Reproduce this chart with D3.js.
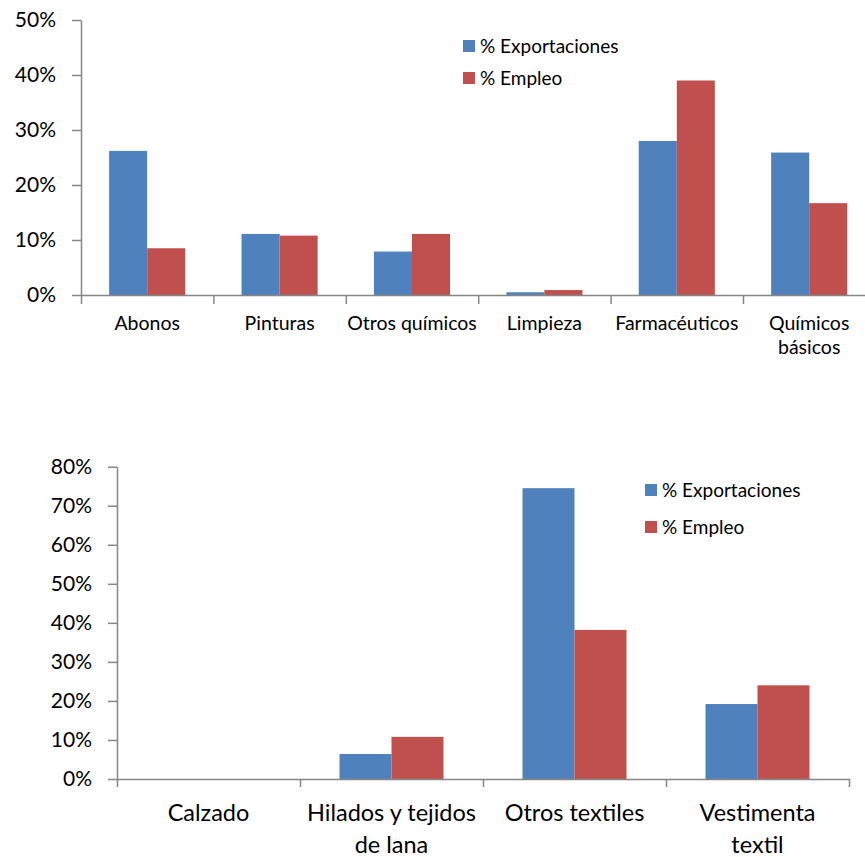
<!DOCTYPE html>
<html>
<head>
<meta charset="utf-8">
<script src="https://cdn.jsdelivr.net/npm/d3@7"></script>
<style>
  html, body { margin: 0; padding: 0; background: #fff; }
  svg { display: block; font-family: Lato, "Open Sans", sans-serif; }
</style>
</head>
<body>
<svg id="chart" width="865" height="857"></svg>
<script>
// ---------- DATA ----------
const seriesNames = ["% Exportaciones", "% Empleo"];
const seriesColors = ["#4F81BD", "#C0504D"];

// Top chart (químicos)
const topCategories = ["Abonos", "Pinturas", "Otros químicos", "Limpieza", "Farmacéuticos", "Químicos básicos"];
const topLabels = ["Abonos", "Pinturas", "Otros químicos", "Limpieza", "Farmacéuticos", "Químicos\nbásicos"];
const topExport = [0.262, 0.111, 0.079, 0.005, 0.280, 0.259];
const topEmpleo = [0.085, 0.108, 0.111, 0.009, 0.390, 0.167];
const topTicks = [0, 0.1, 0.2, 0.3, 0.4, 0.5];

// Bottom chart (textiles)
const botCategories = ["Calzado", "Hilados y tejidos de lana", "Otros textiles", "Vestimenta textil"];
const botLabels = ["Calzado", "Hilados y tejidos\nde lana", "Otros textiles", "Vestimenta\ntextil"];
const botExport = [0.0, 0.064, 0.745, 0.192];
const botEmpleo = [0.0, 0.108, 0.382, 0.240];
const botTicks = [0, 0.1, 0.2, 0.3, 0.4, 0.5, 0.6, 0.7, 0.8];

// ---------- DRAW ----------
const svg = d3.select("#chart");
const axisColor = "#868686";

function drawChart(cfg) {
  const g = svg.append("g");
  const n = cfg.categories.length;
  const x = d3.scaleBand().domain(cfg.categories)
    .range([cfg.x0, cfg.x0 + cfg.step * n]).paddingInner(0).paddingOuter(0);
  const xs = d3.scaleBand().domain(seriesNames)
    .range([0, x.bandwidth()]).paddingInner(0).paddingOuter(cfg.barPad);
  const y = d3.scaleLinear().domain([0, cfg.yMax]).range([cfg.yBottom, cfg.yTop]);

  // bars
  const rows = cfg.categories.map((c, i) => ({ cat: c, vals: [cfg.exp[i], cfg.emp[i]] }));
  const grp = g.selectAll("g.cat").data(rows).join("g")
    .attr("transform", d => `translate(${x(d.cat)},0)`);
  grp.selectAll("rect").data(d => d.vals.map((v, k) => ({ v, k }))).join("rect")
    .attr("x", d => xs(seriesNames[d.k]))
    .attr("width", xs.bandwidth())
    .attr("y", d => y(d.v))
    .attr("height", d => y(0) - y(d.v))
    .attr("fill", d => seriesColors[d.k]);

  // y axis
  const yAxis = d3.axisLeft(y).tickValues(cfg.ticks)
    .tickFormat(d3.format(".0%")).tickSize(9).tickSizeOuter(0).tickPadding(cfg.yTickPad);
  const ya = g.append("g").attr("transform", `translate(${cfg.x0},0)`).call(yAxis);
  ya.select(".domain").attr("stroke", axisColor).attr("stroke-width", 1.5);
  ya.selectAll(".tick line").attr("stroke", axisColor).attr("stroke-width", 1.5);
  ya.selectAll(".tick text").attr("fill", "#000").style("font-size", cfg.yFont + "px")
    .style("font-family", "Lato, sans-serif");

  // x axis line + boundary ticks
  const xb = d3.scaleLinear().domain([0, n]).range([cfg.x0, cfg.x0 + cfg.step * n]);
  const xAxis = d3.axisBottom(xb).tickValues(d3.range(n + 1)).tickFormat("")
    .tickSize(cfg.xTick).tickSizeOuter(0);
  const xa = g.append("g").attr("transform", `translate(0,${cfg.yBottom})`).call(xAxis);
  xa.select(".domain").attr("stroke", axisColor).attr("stroke-width", 1.5);
  xa.selectAll(".tick line").attr("stroke", axisColor).attr("stroke-width", 1.5);

  // category labels
  cfg.categories.forEach((c, i) => {
    const lines = cfg.labels[i].split("\n");
    const t = g.append("text")
      .attr("x", x(c) + x.bandwidth() / 2)
      .attr("y", cfg.labelY)
      .attr("text-anchor", "middle")
      .attr("fill", "#000")
      .style("font-size", cfg.xFont + "px");
    lines.forEach((ln, j) => {
      t.append("tspan").attr("x", x(c) + x.bandwidth() / 2)
        .attr("dy", j === 0 ? 0 : cfg.lineH).text(ln);
    });
  });

  // legend
  const lg = g.append("g").attr("transform", `translate(${cfg.legX},${cfg.legY})`);
  seriesNames.forEach((s, k) => {
    const row = lg.append("g").attr("transform", `translate(0,${k * cfg.legGap})`);
    row.append("rect").attr("x", 0).attr("y", 0).attr("width", cfg.legSq).attr("height", cfg.legSq)
      .attr("fill", seriesColors[k]);
    row.append("text").attr("x", cfg.legSq + 5).attr("y", cfg.legSq / 2)
      .attr("dy", "0.35em").attr("fill", "#000")
      .style("font-size", cfg.legFont + "px").text(s);
  });
}

drawChart({
  categories: topCategories, labels: topLabels, exp: topExport, emp: topEmpleo, ticks: topTicks,
  x0: 81, step: 132.4, yTop: 20, yBottom: 295, yMax: 0.5, barPad: 0.74,
  yFont: 21, yTickPad: 16, xTick: 9, xFont: 19.5, labelY: 330, lineH: 24,
  legX: 463, legY: 40, legSq: 12, legGap: 32, legFont: 19
});

drawChart({
  categories: botCategories, labels: botLabels, exp: botExport, emp: botEmpleo, ticks: botTicks,
  x0: 117, step: 183, yTop: 466.7, yBottom: 779, yMax: 0.8, barPad: 0.76,
  yFont: 21, yTickPad: 16, xTick: 8, xFont: 23.5, labelY: 821, lineH: 32,
  legX: 645, legY: 484, legSq: 12, legGap: 37, legFont: 19
});
</script>
</body>
</html>
